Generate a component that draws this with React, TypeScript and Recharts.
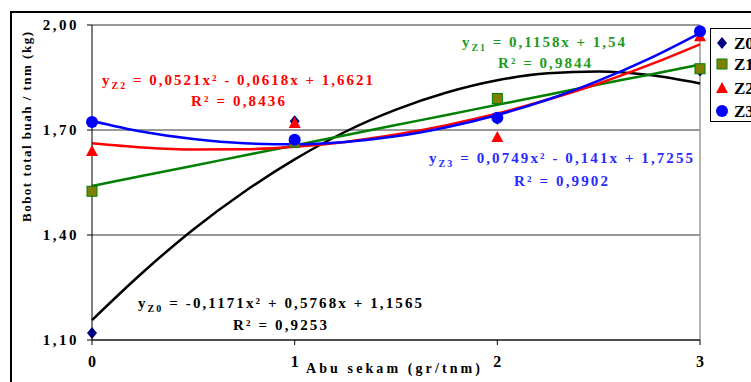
import React from "react";
import { ComposedChart, Line, Scatter, XAxis, YAxis, CartesianGrid, ReferenceLine } from "recharts";

// dosis abu sekam (gr/tnm)
const doses = [0, 1, 2, 3];
const obsZ0 = [1.12, 1.725, 1.732, 1.87];
const obsZ1 = [1.525, 1.665, 1.79, 1.875];
const obsZ2 = [1.64, 1.72, 1.68, 1.968];
const obsZ3 = [1.723, 1.672, 1.735, 1.982];

// trendlines
const trendX = [0, 0.25, 0.5, 0.75, 1, 1.25, 1.5, 1.75, 2, 2.25, 2.5, 2.75, 3];
const trendZ0 = [1.157, 1.293, 1.416, 1.523, 1.616, 1.695, 1.758, 1.807, 1.842, 1.862, 1.867, 1.857, 1.833];
const trendZ1 = [1.54, 1.569, 1.598, 1.627, 1.656, 1.685, 1.714, 1.743, 1.772, 1.801, 1.83, 1.858, 1.887];
const trendZ2 = [1.662, 1.65, 1.644, 1.645, 1.652, 1.666, 1.687, 1.714, 1.747, 1.787, 1.833, 1.886, 1.945];
const trendZ3 = [1.726, 1.695, 1.674, 1.662, 1.659, 1.666, 1.682, 1.708, 1.743, 1.787, 1.841, 1.904, 1.977];

const xTicks = [0, 1, 2, 3];
const yTicks = [1.1, 1.4, 1.7, 2.0];
const seriesNames = ["Z0", "Z1", "Z2", "Z3"];

const FONT = "'Liberation Serif', 'Times New Roman', serif";

const trendData = trendX.map((x, i) => ({ x, z0: trendZ0[i], z1: trendZ1[i], z2: trendZ2[i], z3: trendZ3[i] }));
const pts = (ys: number[]) => doses.map((x, i) => ({ x, y: ys[i] }));

const fmt = (v: number) => v.toFixed(2).replace(".", ",");

// marker shapes
const Diamond = ({ cx, cy }: any) => (
  <polygon points={`${cx},${cy - 6} ${cx + 5},${cy} ${cx},${cy + 6} ${cx - 5},${cy}`} fill="#000080" />
);
const Square = ({ cx, cy }: any) => (
  <rect x={cx - 5} y={cy - 5} width={10} height={10} fill="#808000" stroke="#008000" strokeWidth={1} />
);
const Triangle = ({ cx, cy }: any) => (
  <polygon points={`${cx},${cy - 6} ${cx + 6},${cy + 5} ${cx - 6},${cy + 5}`} fill="#ff0000" />
);
const Circle = ({ cx, cy }: any) => <circle cx={cx} cy={cy} r={6} fill="#0000ff" />;

const XTick = ({ x, y, payload }: any) => (
  <text x={x} y={y + 20} textAnchor="middle" fontFamily={FONT} fontWeight={700} fontSize={16} fill="#000">
    {payload.value}
  </text>
);
const YTick = ({ x, y, payload }: any) => (
  <text x={x} y={y + 5} textAnchor="end" fontFamily={FONT} fontWeight={700} fontSize={15} letterSpacing={2.5} fill="#000">
    {fmt(payload.value)}
  </text>
);

function Eq({ x, y, w, color, sub, body }: any) {
  return (
    <text x={x} y={y} fill={color} fontFamily={FONT} fontWeight={700} fontSize={15} textLength={w} lengthAdjust="spacing">
      y<tspan fontSize={10} dy={4}>{sub}</tspan>
      <tspan dy={-4}>{body}</tspan>
    </text>
  );
}
function R2({ x, y, w, color, val }: any) {
  return (
    <text x={x} y={y} fill={color} fontFamily={FONT} fontWeight={700} fontSize={15} textLength={w} lengthAdjust="spacing">
      {`R² = ${val}`}
    </text>
  );
}

export default function App() {
  return (
    <div style={{ position: "absolute", left: 0, top: 0, width: 751, height: 382, overflow: "hidden", background: "#fff" }}>
      <div style={{ position: "absolute", left: 10, top: 11, width: 800, height: 420, border: "2px solid #000" }} />
      <div style={{ position: "absolute", left: 0, top: 0 }}>
        <ComposedChart width={751} height={382} data={trendData} margin={{ top: 25, right: 51, left: 0, bottom: 0 }}>
          <CartesianGrid horizontal vertical={false} stroke="#333" strokeWidth={1} />
          <XAxis
            dataKey="x"
            type="number"
            domain={[0, 3]}
            ticks={xTicks}
            height={42}
            tickSize={5}
            stroke="#000"
            tick={<XTick />}
            interval={0}
          />
          <YAxis
            type="number"
            domain={[1.1, 2.0]}
            ticks={yTicks}
            width={92}
            tickSize={5}
            tickMargin={8}
            stroke="#000"
            tick={<YTick />}
            interval={0}
          />
          <ReferenceLine x={3} stroke="#999" strokeWidth={1.5} />
          <Line type="monotone" dataKey="z0" stroke="#000" strokeWidth={2.5} dot={false} isAnimationActive={false} />
          <Line type="monotone" dataKey="z1" stroke="#008000" strokeWidth={2.5} dot={false} isAnimationActive={false} />
          <Line type="monotone" dataKey="z2" stroke="#ff0000" strokeWidth={2.5} dot={false} isAnimationActive={false} />
          <Line type="monotone" dataKey="z3" stroke="#0000ff" strokeWidth={2.5} dot={false} isAnimationActive={false} />
          <Scatter data={pts(obsZ0)} dataKey="y" shape={<Diamond />} isAnimationActive={false} />
          <Scatter data={pts(obsZ1)} dataKey="y" shape={<Square />} isAnimationActive={false} />
          <Scatter data={pts(obsZ2)} dataKey="y" shape={<Triangle />} isAnimationActive={false} />
          <Scatter data={pts(obsZ3)} dataKey="y" shape={<Circle />} isAnimationActive={false} />
        </ComposedChart>
      </div>
      <svg width={751} height={382} style={{ position: "absolute", left: 0, top: 0, pointerEvents: "none" }}>
        {/* axis titles */}
        <text
          x={31}
          y={127}
          transform="rotate(-90 31 127)"
          textAnchor="middle"
          fontFamily={FONT}
          fontWeight={700}
          fontSize={13}
          textLength={190}
          lengthAdjust="spacing"
          fill="#000"
        >
          Bobot total buah / tnm (kg)
        </text>
        <text x={306} y={373} fontFamily={FONT} fontWeight={700} fontSize={14} textLength={174} lengthAdjust="spacing" fill="#000">
          Abu sekam (gr/tnm)
        </text>

        {/* equations */}
        <Eq x={102} y={85} w={271} color="#ff0000" sub="Z2" body=" = 0,0521x² - 0,0618x + 1,6621" />
        <R2 x={191} y={106} w={94} color="#ff0000" val="0,8436" />
        <Eq x={462} y={47} w={163} color="#1e9a1e" sub="Z1" body=" = 0,1158x + 1,54" />
        <R2 x={498} y={68} w={93} color="#1e9a1e" val="0,9844" />
        <Eq x={429} y={163} w={264} color="#2a2aff" sub="Z3" body=" = 0,0749x² - 0,141x + 1,7255" />
        <R2 x={514} y={186} w={94} color="#2a2aff" val="0,9902" />
        <Eq x={138} y={308} w={284} color="#000" sub="Z0" body=" = -0,1171x² + 0,5768x + 1,1565" />
        <R2 x={233} y={330} w={94} color="#000" val="0,9253" />

        {/* legend */}
        <rect x={710.5} y={28.5} width={60} height={93} fill="#fff" stroke="#000" strokeWidth={1} />
        <Diamond cx={722} cy={43} />
        <Square cx={722} cy={64} />
        <Triangle cx={722} cy={88} />
        <Circle cx={722} cy={111} />
        {seriesNames.map((n, i) => (
          <text key={n} x={734} y={[43, 64, 88, 111][i] + 6} fontFamily={FONT} fontWeight={700} fontSize={17} fill="#000">
            {n}
          </text>
        ))}
      </svg>
    </div>
  );
}
